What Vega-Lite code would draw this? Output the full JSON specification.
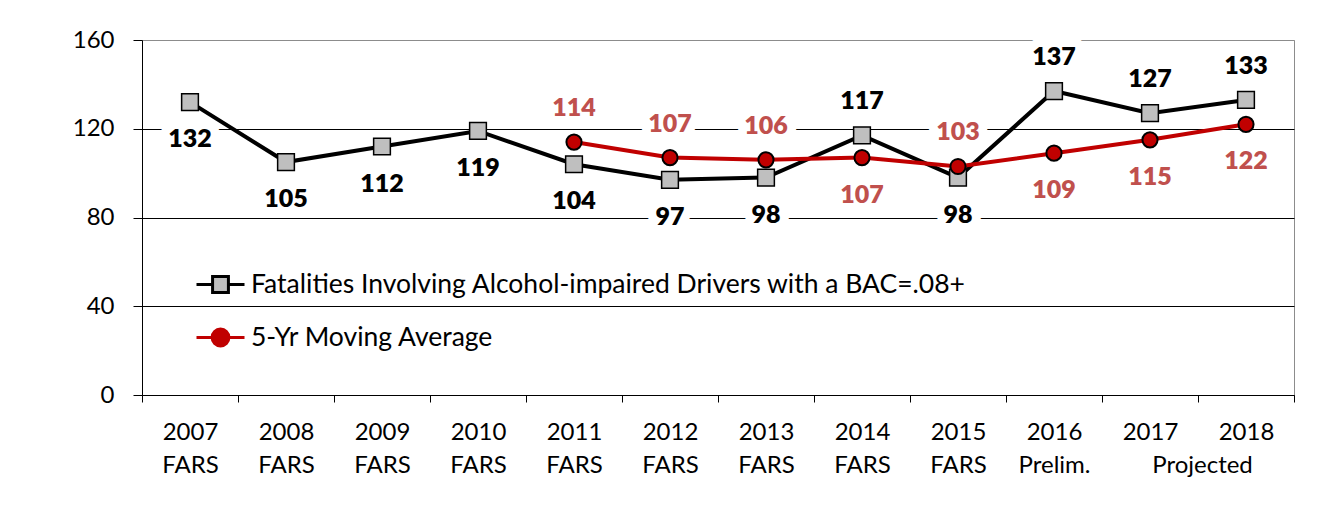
{
  "$schema": "https://vega.github.io/schema/vega-lite/v6.json",
  "width": 1152,
  "height": 355,
  "autosize": {"type": "none"},
  "padding": {"left": 142, "top": 40, "right": 33, "bottom": 115},
  "background": "white",
  "config": {
    "view": {"stroke": "#8c8c8c", "strokeWidth": 1},
    "font": "Lato",
    "text": {"font": "Lato"}
  },
  "data": {
    "values": [
      {"year": "2007", "series": "Fatalities Involving Alcohol-impaired Drivers with a BAC=.08+", "value": 132},
      {"year": "2008", "series": "Fatalities Involving Alcohol-impaired Drivers with a BAC=.08+", "value": 105},
      {"year": "2009", "series": "Fatalities Involving Alcohol-impaired Drivers with a BAC=.08+", "value": 112},
      {"year": "2010", "series": "Fatalities Involving Alcohol-impaired Drivers with a BAC=.08+", "value": 119},
      {"year": "2011", "series": "Fatalities Involving Alcohol-impaired Drivers with a BAC=.08+", "value": 104},
      {"year": "2012", "series": "Fatalities Involving Alcohol-impaired Drivers with a BAC=.08+", "value": 97},
      {"year": "2013", "series": "Fatalities Involving Alcohol-impaired Drivers with a BAC=.08+", "value": 98},
      {"year": "2014", "series": "Fatalities Involving Alcohol-impaired Drivers with a BAC=.08+", "value": 117},
      {"year": "2015", "series": "Fatalities Involving Alcohol-impaired Drivers with a BAC=.08+", "value": 98},
      {"year": "2016", "series": "Fatalities Involving Alcohol-impaired Drivers with a BAC=.08+", "value": 137},
      {"year": "2017", "series": "Fatalities Involving Alcohol-impaired Drivers with a BAC=.08+", "value": 127},
      {"year": "2018", "series": "Fatalities Involving Alcohol-impaired Drivers with a BAC=.08+", "value": 133},
      {"year": "2011", "series": "5-Yr Moving Average", "value": 114},
      {"year": "2012", "series": "5-Yr Moving Average", "value": 107},
      {"year": "2013", "series": "5-Yr Moving Average", "value": 106},
      {"year": "2014", "series": "5-Yr Moving Average", "value": 107},
      {"year": "2015", "series": "5-Yr Moving Average", "value": 103},
      {"year": "2016", "series": "5-Yr Moving Average", "value": 109},
      {"year": "2017", "series": "5-Yr Moving Average", "value": 115},
      {"year": "2018", "series": "5-Yr Moving Average", "value": 122}
    ]
  },
  "resolve": {"axis": {"x": "independent"}},
  "encoding": {
    "y": {
      "field": "value",
      "type": "quantitative",
      "scale": {"domain": [0, 160], "nice": false},
      "axis": {
        "title": null,
        "values": [0, 40, 80, 120, 160],
        "grid": true,
        "gridColor": {"condition": {"test": "datum.value == 160", "value": "#8c8c8c"}, "value": "black"},
        "gridWidth": 1,
        "tickSize": 9,
        "tickColor": "black",
        "domainColor": "black",
        "labelFontSize": 24,
        "labelFont": "Lato",
        "labelColor": "black",
        "labelPadding": 19
      }
    }
  },
  "layer": [
    {
      "transform": [{"filter": "(datum.series == '5-Yr Moving Average') ? indexof(['2011','2012','2013','2015'], datum.year) >= 0 : indexof(['2014','2016','2017','2018'], datum.year) >= 0"}],
      "mark": {"type": "text", "fontSize": 25, "fontWeight": 800, "dy": -34, "fill": "white", "stroke": "white", "strokeWidth": 18, "strokeJoin": "round"},
      "encoding": {
        "x": {"field": "year", "type": "ordinal", "scale": {"type": "band", "paddingInner": 0, "paddingOuter": 0}, "axis": null},
        "text": {"field": "value", "type": "quantitative"}
      }
    },
    {
      "transform": [{"filter": "(datum.series == '5-Yr Moving Average') ? indexof(['2011','2012','2013','2015'], datum.year) < 0 : indexof(['2014','2016','2017','2018'], datum.year) < 0"}],
      "mark": {"type": "text", "fontSize": 25, "fontWeight": 800, "dy": 37, "fill": "white", "stroke": "white", "strokeWidth": 18, "strokeJoin": "round"},
      "encoding": {
        "x": {"field": "year", "type": "ordinal", "scale": {"type": "band", "paddingInner": 0, "paddingOuter": 0}, "axis": null},
        "text": {"field": "value", "type": "quantitative"}
      }
    },
    {
      "mark": {"type": "line", "strokeWidth": 4},
      "encoding": {
        "x": {
          "field": "year", "type": "ordinal",
          "scale": {"type": "band", "paddingInner": 0, "paddingOuter": 0},
          "axis": {
            "orient": "bottom",
            "title": null, "labelAngle": 0, "tickBand": "extent", "tickSize": 7, "tickColor": "black",
            "domainColor": "black", "labelFontSize": 24, "labelFont": "Lato", "labelColor": "black",
            "labelPadding": 18, "labelLineHeight": 33, "grid": false,
            "labelExpr": "datum.value <= '2015' ? [datum.value, 'FARS'] : (datum.value == '2016' ? [datum.value, 'Prelim.'] : [datum.value, ''])"
          }
        },
        "color": {
          "field": "series", "type": "nominal",
          "scale": {"domain": ["Fatalities Involving Alcohol-impaired Drivers with a BAC=.08+", "5-Yr Moving Average"], "range": ["black", "#C00000"]},
          "legend": {
            "orient": "none", "legendX": 53, "legendY": 219, "title": null,
            "symbolSize": 2304, "symbolStrokeWidth": 3, "labelFontSize": 26.5, "labelFont": "Lato",
            "labelColor": "black", "labelOffset": 5, "rowPadding": 13, "padding": 0, "labelLimit": 1000,
            "encode": {
              "symbols": {
                "update": {
                  "shape": {"signal": "datum.value == '5-Yr Moving Average' ? 'M-1,0H-0.35M0.35,0H1M-0.35,0A0.35,0.35,0,1,1,0.35,0A0.35,0.35,0,1,1,-0.35,0Z' : 'M-1,0H-0.33M0.33,0H1M-0.33,-0.33H0.33V0.33H-0.33Z'"},
                  "fill": {"signal": "datum.value == '5-Yr Moving Average' ? '#C00000' : '#BFBFBF'"},
                  "stroke": {"signal": "datum.value == '5-Yr Moving Average' ? '#C00000' : 'black'"},
                  "strokeWidth": {"value": 3},
                  "opacity": {"value": 1}
                }
              }
            }
          }
        }
      }
    },
    {
      "transform": [{"filter": "datum.series != '5-Yr Moving Average'"}],
      "mark": {"type": "point", "shape": "square", "size": 280, "filled": true, "fill": "#BFBFBF", "stroke": "black", "strokeWidth": 1.5, "opacity": 1},
      "encoding": {
        "x": {
          "field": "year", "type": "ordinal",
          "scale": {"type": "band", "paddingInner": 0, "paddingOuter": 0},
          "axis": {
            "orient": "bottom",
            "title": null, "labelAngle": 0, "tickBand": "extent", "tickSize": 7, "tickOpacity": 0,
            "domain": false, "labelFontSize": 24, "labelFont": "Lato", "labelColor": "black",
            "labelPadding": 18, "labelLineHeight": 33, "grid": false, "labelOffset": 52,
            "labelExpr": "datum.value == '2017' ? ['', 'Projected'] : ''"
          }
        }
      }
    },
    {
      "transform": [{"filter": "datum.series == '5-Yr Moving Average'"}],
      "mark": {"type": "point", "shape": "circle", "size": 230, "filled": true, "fill": "#C00000", "stroke": "black", "strokeWidth": 2, "opacity": 1},
      "encoding": {
        "x": {"field": "year", "type": "ordinal", "scale": {"type": "band", "paddingInner": 0, "paddingOuter": 0}, "axis": null}
      }
    },
    {
      "transform": [{"filter": "(datum.series == '5-Yr Moving Average') ? indexof(['2011','2012','2013','2015'], datum.year) >= 0 : indexof(['2014','2016','2017','2018'], datum.year) >= 0"}],
      "mark": {"type": "text", "fontSize": 25, "fontWeight": 800, "dy": -34},
      "encoding": {
        "x": {"field": "year", "type": "ordinal", "scale": {"type": "band", "paddingInner": 0, "paddingOuter": 0}, "axis": null},
        "text": {"field": "value", "type": "quantitative"},
        "color": {"condition": {"test": "datum.series == '5-Yr Moving Average'", "value": "#C0504D"}, "value": "black"}
      }
    },
    {
      "transform": [{"filter": "(datum.series == '5-Yr Moving Average') ? indexof(['2011','2012','2013','2015'], datum.year) < 0 : indexof(['2014','2016','2017','2018'], datum.year) < 0"}],
      "mark": {"type": "text", "fontSize": 25, "fontWeight": 800, "dy": 37},
      "encoding": {
        "x": {"field": "year", "type": "ordinal", "scale": {"type": "band", "paddingInner": 0, "paddingOuter": 0}, "axis": null},
        "text": {"field": "value", "type": "quantitative"},
        "color": {"condition": {"test": "datum.series == '5-Yr Moving Average'", "value": "#C0504D"}, "value": "black"}
      }
    }
  ]
}
